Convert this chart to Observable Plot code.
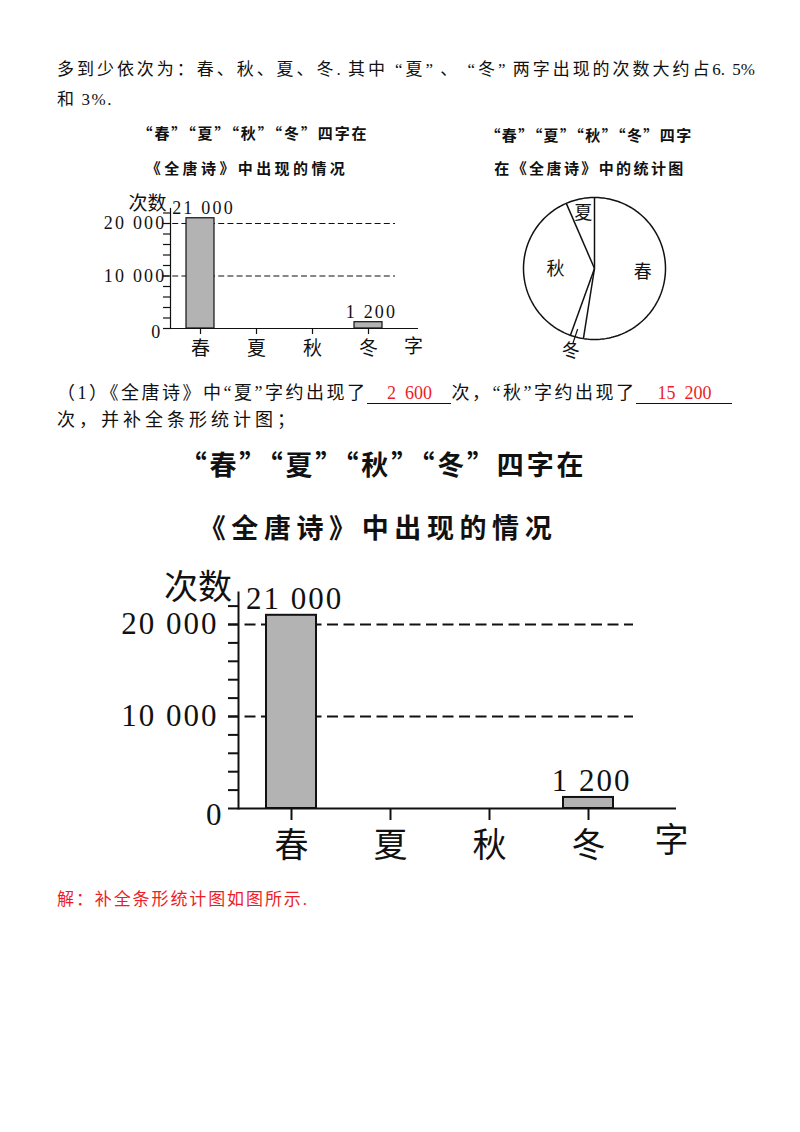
<!DOCTYPE html>
<html><head><meta charset="utf-8">
<script src="https://cdn.jsdelivr.net/npm/d3@7"></script>
<script src="https://cdn.jsdelivr.net/npm/@observablehq/plot@0.6"></script>
<style>
body{margin:0;background:#fff;}
#page{position:relative;width:800px;height:1132px;background:#fff;overflow:hidden;font-family:"Liberation Serif","Noto Sans CJK SC",serif;color:#111;}
.t{position:absolute;white-space:nowrap;font-size:17px;line-height:1;letter-spacing:1.6px;}
.h{position:absolute;white-space:nowrap;font-family:"Noto Sans CJK SC",sans-serif;font-weight:700;transform:translateX(-50%);line-height:1;color:#111;}
.red{color:#ee1c25;}
.blank{display:inline-block;border-bottom:1px solid #111;text-align:center;line-height:1.05;}
.plot{position:absolute;}
.plot svg{overflow:visible;}
</style></head><body><div id="page">
<div class="t" style="left:57px;top:61px;width:698px;text-align:justify;text-align-last:justify;letter-spacing:0">多到少依次为：春、秋、夏、冬. 其中 “夏” 、 “冬” 两字出现的次数大约占6. 5%</div>
<div class="t" style="left:57px;top:91px">和 3%.</div>
<div class="h" id="st1" style="left:253px;top:125px;font-size:15px;letter-spacing:1.9px"></div>
<div class="h" id="st2" style="left:247px;top:160px;font-size:15px;letter-spacing:3.4px"></div>
<div class="h" id="pt1" style="left:589px;top:127px;font-size:15px;letter-spacing:1.4px"></div>
<div class="h" id="pt2" style="left:590px;top:160px;font-size:15px;letter-spacing:2.4px"></div>
<div class="t" style="left:57px;top:384px;font-size:18px;letter-spacing:2.5px">（1）《全唐诗》中“夏”字约出现了<span class="blank" style="width:84px;letter-spacing:0"><span class="red">2&nbsp;&nbsp;600</span></span>次，“秋”字约出现了<span class="blank" style="width:96px;letter-spacing:0"><span class="red">15&nbsp;&nbsp;200</span></span></div>
<div class="t" style="left:57px;top:411px;font-size:18px;letter-spacing:4px">次，并补全条形统计图；</div>
<div class="h" id="bt1" style="left:383px;top:450px;font-size:27px;letter-spacing:2.8px"></div>
<div class="h" id="bt2" style="left:378px;top:513px;font-size:27px;letter-spacing:5.6px"></div>
<div class="t red" style="left:57px;top:891px;letter-spacing:1.9px">解：补全条形统计图如图所示.</div>
<div class="plot" id="small" style="left:0;top:185px"></div>
<div class="plot" id="pie" style="left:494px;top:167.5px"></div>
<div class="plot" id="big" style="left:0;top:560px"></div>
</div>
<script>
// ---- data ----
const categories = ["春", "夏", "秋", "冬"];
const counts = [21000, 2600, 15200, 1200];          // totals (pie chart)
const barCounts = [21000, null, null, 1200];         // bars drawn in the bar charts
const pieOrder = ["春", "冬", "秋", "夏"];            // clockwise from 12 o'clock
const yLabelTicks = [10000, 20000];
const minorTicks = [0, 2000, 4000, 6000, 8000, 10000, 12000, 14000, 16000, 18000, 20000, 22000];
const yName = "次数";
const xName = "字";
const barTitle = ["“春”“夏”“秋”“冬”四字在", "《全唐诗》中出现的情况"];
const pieTitle = ["“春”“夏”“秋”“冬”四字", "在《全唐诗》中的统计图"];

document.getElementById("st1").textContent = barTitle[0];
document.getElementById("st2").textContent = barTitle[1];
document.getElementById("bt1").textContent = barTitle[0];
document.getElementById("bt2").textContent = barTitle[1];
document.getElementById("pt1").textContent = pieTitle[0];
document.getElementById("pt2").textContent = pieTitle[1];

const fmt = d => d3.format(",")(d).replace(/,/g, "\u00a0");
const table = categories.map((c, i) => ({cat: c, n: barCounts[i]})).filter(d => d.n != null);
const FONT = '"Liberation Serif","Noto Sans CJK SC",serif';

function barChart(c) {
  const svg = Plot.plot({
    width: 800, height: c.height,
    marginLeft: c.left, marginRight: 800 - c.right,
    marginTop: c.frameTop - c.top, marginBottom: c.top + c.height - c.base,
    x: {type: "band", domain: categories, range: c.xRange, paddingInner: 0.5, paddingOuter: 0.25},
    y: {domain: [0, c.yMax]},
    style: {fontFamily: FONT, background: "transparent", overflow: "visible", color: "#111"},
    marks: [
      Plot.ruleY(yLabelTicks, {stroke: "#111", strokeWidth: c.gridW, strokeDasharray: c.dash, insetLeft: -c.tick, insetRight: c.gridEnd}),
      Plot.barY(table, {x: "cat", y: "n", fill: "#b3b3b3", stroke: "#111", strokeWidth: c.sw}),
      Plot.axisY({ticks: minorTicks.filter(t => t <= c.yMax), tickSize: c.tick, tickFormat: () => "", label: null, strokeWidth: c.sw}),
      Plot.axisY({ticks: yLabelTicks, tickSize: 0, tickPadding: c.labPad, tickFormat: fmt, label: null, fontSize: c.numSize}),
      Plot.text([0], {y: d => d, text: d => fmt(d), frameAnchor: "left", textAnchor: "end", dx: c.zeroDx, dy: c.zeroDy, fontSize: c.numSize}),
      Plot.axisX({tickSize: c.catTick, tickPadding: c.catPad, label: null, fontSize: c.catSize, strokeWidth: c.sw, fontFamily: '"Noto Sans CJK SC",serif'}),
      Plot.ruleY([0], {stroke: "#111", strokeWidth: c.sw}),
      Plot.frame({anchor: "left", stroke: "#111", strokeWidth: c.sw}),
      Plot.text(table, {x: "cat", y: "n", text: d => fmt(d.n), lineAnchor: "bottom", dy: c.valDy, dx: c.valDx, fontSize: c.numSize}),
      Plot.text([yName], {frameAnchor: "top-left", textAnchor: "middle", lineAnchor: "middle", dx: c.yNameDx, dy: c.yNameDy, fontSize: c.catSize, fontFamily: '"Noto Sans CJK SC",serif'}),
      Plot.text([xName], {frameAnchor: "bottom-right", textAnchor: "middle", lineAnchor: "middle", dx: c.xNameDx, dy: c.xNameDy, fontSize: c.catSize, fontFamily: '"Noto Sans CJK SC",serif'})
    ]
  });
  d3.select(svg).selectAll("text").filter(function() { return /\d/.test(this.textContent); })
    .style("letter-spacing", c.ls + "px");
  return svg;
}

document.getElementById("small").append(barChart({
  top: 185, height: 180, left: 170, right: 418, frameTop: 208, base: 328, yMax: 22857,
  xRange: [171.85, 397], sw: 1.2, gridW: 1.1, dash: "6,3.2", tick: 7, gridEnd: 23,
  labPad: 4, numSize: 18, ls: 2.2, zeroDx: -8, zeroDy: 4,
  catTick: 6, catPad: 7, catSize: 19, valDy: -4, valDx: 3,
  yNameDx: -23, yNameDy: -4.5, xNameDx: -5, xNameDy: 18
}));

document.getElementById("big").append(barChart({
  top: 560, height: 320, left: 238, right: 676, frameTop: 592, base: 808, yMax: 23478,
  xRange: [240.4, 637.6], sw: 2, gridW: 1.8, dash: "11,5.5", tick: 10, gridEnd: 43,
  labPad: 20, numSize: 31, ls: 2, zeroDx: -15, zeroDy: 7,
  catTick: 12, catPad: 12, catSize: 34, valDy: -6, valDx: 3,
  yNameDx: -40.5, yNameDy: -4, xNameDx: -5, xNameDy: 33
}));

// ---- pie ----
const R = 71, W = 200;
const pieValues = pieOrder.map(c => counts[categories.indexOf(c)]);
const arcs = d3.pie().sort(null).value(d => d)(pieValues)
  .map((a, i) => ({...a, name: pieOrder[i], mid: (a.startAngle + a.endAngle) / 2}));
const labelR = {"春": 0.68, "夏": 0.79, "秋": 0.55, "冬": 1.21};
const labelShift = {"春": 0, "夏": 0, "秋": 0, "冬": 0.03};
const circlePts = d3.range(0, 2 * Math.PI + 1e-6, Math.PI / 120);
const pieSvg = Plot.plot({
  width: W, height: W, margin: 0,
  x: {domain: [-W / 2 / R, W / 2 / R], axis: null},
  y: {domain: [-W / 2 / R, W / 2 / R], axis: null},
  style: {fontFamily: FONT, background: "transparent", overflow: "visible"},
  marks: [
    Plot.line(circlePts, {x: a => Math.sin(a), y: a => Math.cos(a), stroke: "#111", strokeWidth: 1.5}),
    Plot.link(arcs, {x1: () => 0, y1: () => 0, x2: d => Math.sin(d.startAngle), y2: d => Math.cos(d.startAngle), stroke: "#111", strokeWidth: 1.5}),
    Plot.link(arcs.filter(d => d.name === "冬"), {x1: d => Math.sin(d.mid + 0.02) * 0.885, y1: d => Math.cos(d.mid + 0.02) * 0.885, x2: d => Math.sin(d.mid + 0.03) * 1.107, y2: d => Math.cos(d.mid + 0.03) * 1.107, stroke: "#111", strokeWidth: 1.2}),
    Plot.text(arcs, {x: d => Math.sin(d.mid + labelShift[d.name]) * labelR[d.name], y: d => Math.cos(d.mid + labelShift[d.name]) * labelR[d.name], text: "name", fontSize: 18, fill: "#111", fontFamily: '"Noto Sans CJK SC",serif'})
  ]
});
document.getElementById("pie").append(pieSvg);
</script>
</body></html>
